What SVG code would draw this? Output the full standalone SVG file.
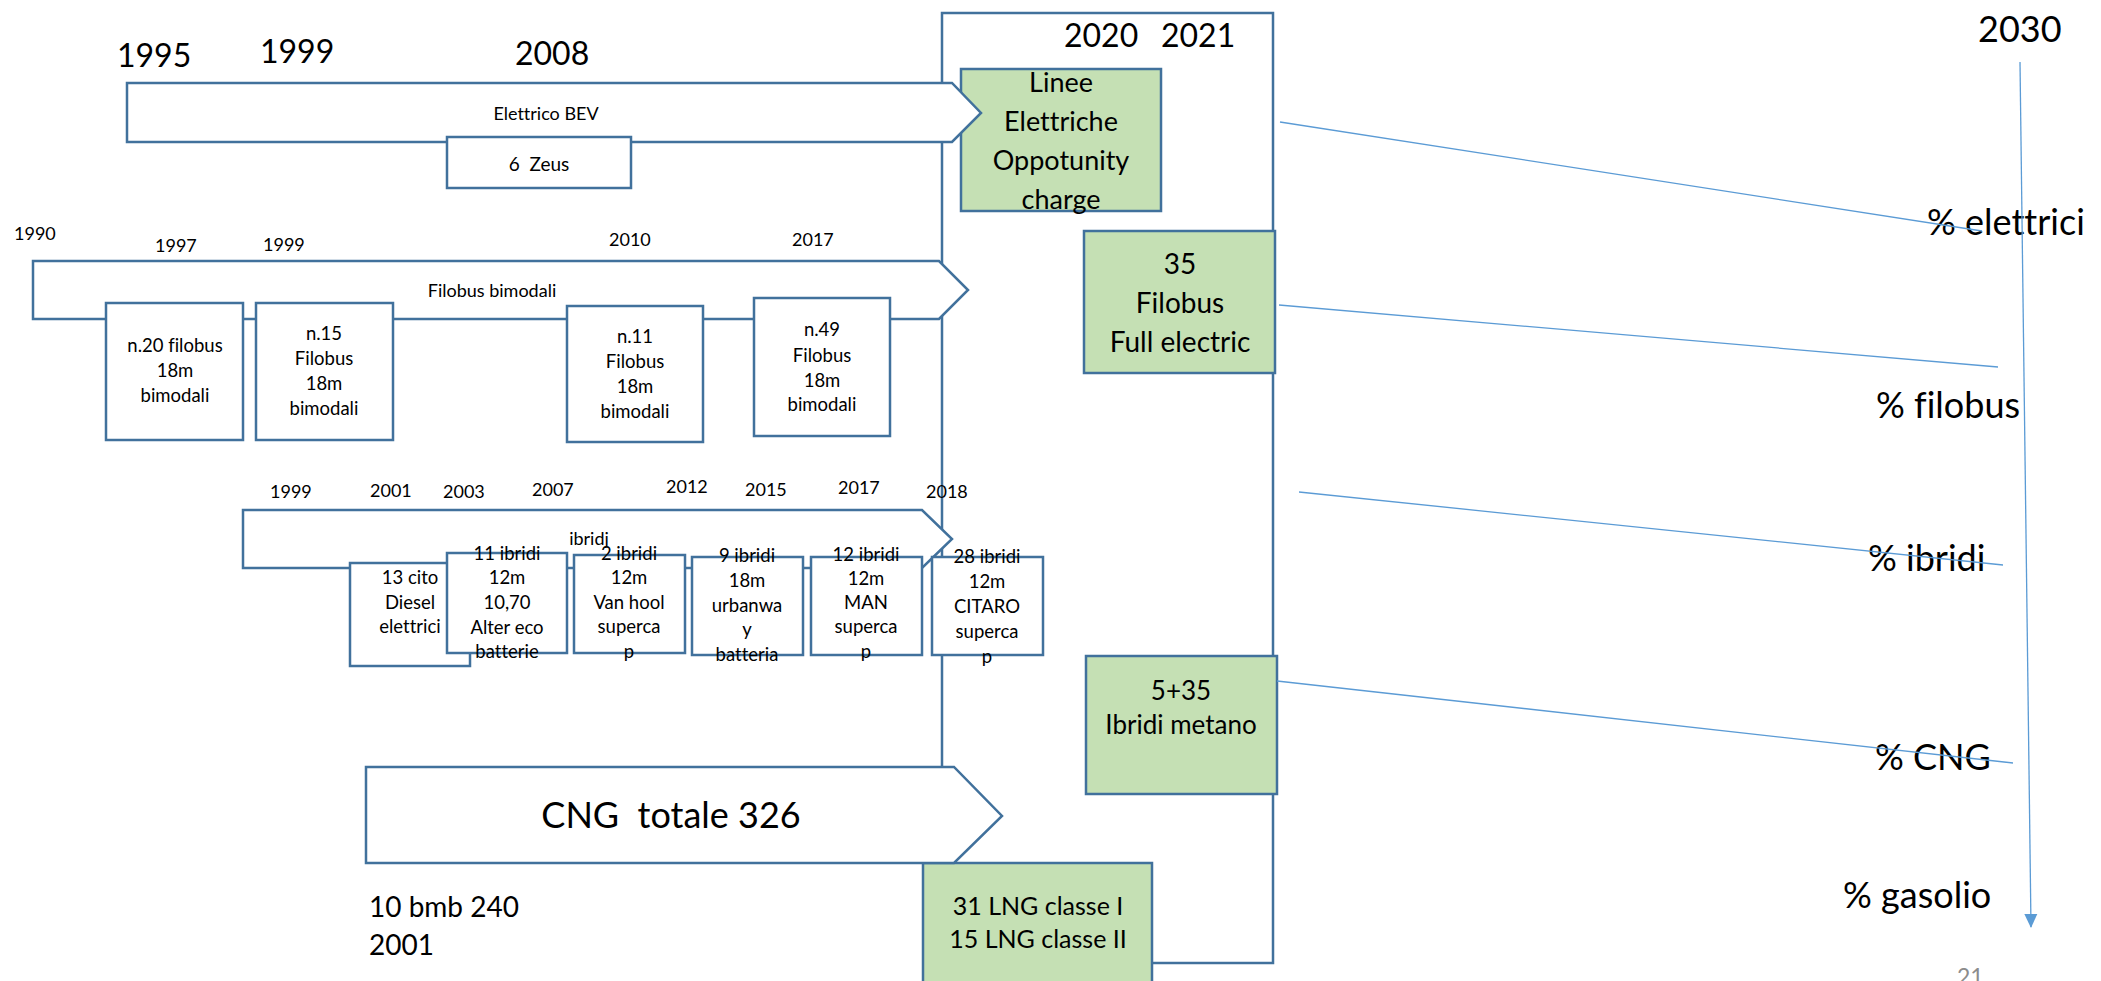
<svg xmlns="http://www.w3.org/2000/svg" width="2101" height="981" viewBox="0 0 2101 981">
  <defs>
    <style>
      text { font-family: Lato, "Open Sans", "Liberation Sans", sans-serif; fill: #000; font-variant-ligatures: none; font-feature-settings: "liga" 0; }
      .shape { fill: #fff; stroke: #41719c; stroke-width: 2.5; }
      .green { fill: #c5e0b4; stroke: #41719c; stroke-width: 2.5; }
      .frame { fill: none; stroke: #41719c; stroke-width: 2.5; }
      .conn { stroke: #5b9bd5; stroke-width: 1.3; fill: none; }
      .yr-big { font-size: 32px; }
      .yr-sm { font-size: 18px; }
      .box { font-size: 18.5px; text-anchor: middle; }
      .gtx { font-size: 27px; text-anchor: middle; }
      .pct { font-size: 36px; }
      .pre { white-space: pre; }
    </style>
    <marker id="arrowhead" markerWidth="14" markerHeight="14" refX="13" refY="7" orient="auto" markerUnits="userSpaceOnUse">
      <path d="M0,0.5 L14,7 L0,13.5 Z" fill="#5b9bd5"/>
    </marker>
  </defs>

  <!-- 2020-2021 frame -->
  <g id="frame-2020-2021">
    <rect class="frame" x="942" y="13" width="331" height="950"/>
    <text class="yr-big" x="1064" y="47">2020</text>
    <text class="yr-big" x="1161" y="47">2021</text>
  </g>

  <!-- green target boxes -->
  <g id="linee-elettriche">
    <rect class="green" x="961" y="69" width="200" height="142"/>
    <text class="gtx" x="1061" y="92">Linee</text>
    <text class="gtx" x="1061" y="131">Elettriche</text>
    <text class="gtx" x="1061" y="170">Oppotunity</text>
    <text class="gtx" x="1061" y="209">charge</text>
  </g>
  <g id="filobus-full-electric">
    <rect class="green" x="1084" y="231" width="191" height="142"/>
    <text class="gtx" x="1180" y="274" style="font-size:28px">35</text>
    <text class="gtx" x="1180" y="313" style="font-size:28px">Filobus</text>
    <text class="gtx" x="1180" y="352" style="font-size:28px">Full electric</text>
  </g>
  <g id="ibridi-metano">
    <rect class="green" x="1086" y="656" width="191" height="138"/>
    <text class="gtx" x="1181" y="700" style="font-size:26px">5+35</text>
    <text class="gtx" x="1181" y="734" style="font-size:26px">Ibridi metano</text>
  </g>
  <g id="lng">
    <rect class="green" x="923" y="863" width="229" height="130"/>
    <text class="gtx" x="1038" y="915" style="font-size:25px">31 LNG classe I</text>
    <text class="gtx" x="1038" y="948" style="font-size:25px">15 LNG classe II</text>
  </g>

  <!-- Elettrico BEV timeline -->
  <g id="elettrico-bev">
    <text class="yr-big" x="117" y="67">1995</text>
    <text class="yr-big" x="260" y="63">1999</text>
    <text class="yr-big" x="515" y="65">2008</text>
    <path class="shape" d="M127,83 H952 L981,113 L952,142 H127 Z"/>
    <text x="546" y="120" style="font-size:18px;text-anchor:middle">Elettrico BEV</text>
  </g>
  <g id="zeus">
    <rect class="shape" x="447" y="137" width="184" height="51"/>
    <text class="pre" x="539" y="171" style="font-size:19px;text-anchor:middle">6  Zeus</text>
  </g>

  <!-- Filobus bimodali timeline -->
  <g id="filobus-bimodali">
    <text class="yr-sm" x="14" y="240">1990</text>
    <text class="yr-sm" x="155" y="252">1997</text>
    <text class="yr-sm" x="263" y="251">1999</text>
    <text class="yr-sm" x="609" y="246">2010</text>
    <text class="yr-sm" x="792" y="246">2017</text>
    <path class="shape" d="M33,261 H939 L968,290 L939,319 H33 Z"/>
    <text x="492" y="297" style="font-size:18px;text-anchor:middle">Filobus bimodali</text>
  </g>
  <g id="filobus-1997">
    <rect class="shape" x="106" y="303" width="137" height="137"/>
    <text class="box" x="175" y="352">n.20 filobus</text>
    <text class="box" x="175" y="377">18m</text>
    <text class="box" x="175" y="402">bimodali</text>
  </g>
  <g id="filobus-1999">
    <rect class="shape" x="256" y="303" width="137" height="137"/>
    <text class="box" x="324" y="340">n.15</text>
    <text class="box" x="324" y="365">Filobus</text>
    <text class="box" x="324" y="390">18m</text>
    <text class="box" x="324" y="415">bimodali</text>
  </g>
  <g id="filobus-2010">
    <rect class="shape" x="567" y="306" width="136" height="136"/>
    <text class="box" x="635" y="343">n.11</text>
    <text class="box" x="635" y="368">Filobus</text>
    <text class="box" x="635" y="393">18m</text>
    <text class="box" x="635" y="418">bimodali</text>
  </g>
  <g id="filobus-2017">
    <rect class="shape" x="754" y="298" width="136" height="138"/>
    <text class="box" x="822" y="336">n.49</text>
    <text class="box" x="822" y="362">Filobus</text>
    <text class="box" x="822" y="387">18m</text>
    <text class="box" x="822" y="411">bimodali</text>
  </g>

  <!-- Ibridi timeline -->
  <g id="ibridi">
    <text class="yr-sm" x="270" y="498">1999</text>
    <text class="yr-sm" x="370" y="497">2001</text>
    <text class="yr-sm" x="443" y="498">2003</text>
    <text class="yr-sm" x="532" y="496">2007</text>
    <text class="yr-sm" x="666" y="493">2012</text>
    <text class="yr-sm" x="745" y="496">2015</text>
    <text class="yr-sm" x="838" y="494">2017</text>
    <text class="yr-sm" x="926" y="498">2018</text>
    <path class="shape" d="M243,510 H922 L952,539 L922,568 H243 Z"/>
    <text x="589" y="545" style="font-size:18px;text-anchor:middle">ibridj</text>
  </g>
  <g id="ibridi-2001">
    <rect class="shape" x="350" y="563" width="120" height="103"/>
    <text class="box" x="410" y="584">13 cito</text>
    <text class="box" x="410" y="609">Diesel</text>
    <text class="box" x="410" y="633">elettrici</text>
  </g>
  <g id="ibridi-2003">
    <rect class="shape" x="447" y="553" width="120" height="100"/>
    <text class="box" x="507" y="560">11 ibridi</text>
    <text class="box" x="507" y="584">12m</text>
    <text class="box" x="507" y="609">10,70</text>
    <text class="box" x="507" y="634">Alter eco</text>
    <text class="box" x="507" y="658">batterie</text>
  </g>
  <g id="ibridi-2007">
    <rect class="shape" x="574" y="555" width="111" height="98"/>
    <text class="box" x="629" y="560">2 ibridi</text>
    <text class="box" x="629" y="584">12m</text>
    <text class="box" x="629" y="609">Van hool</text>
    <text class="box" x="629" y="633">superca</text>
    <text class="box" x="629" y="658">p</text>
  </g>
  <g id="ibridi-2015">
    <rect class="shape" x="692" y="557" width="111" height="98"/>
    <text class="box" x="747" y="562">9 ibridi</text>
    <text class="box" x="747" y="587">18m</text>
    <text class="box" x="747" y="612">urbanwa</text>
    <text class="box" x="747" y="636">y</text>
    <text class="box" x="747" y="661">batteria</text>
  </g>
  <g id="ibridi-2017">
    <rect class="shape" x="811" y="557" width="111" height="98"/>
    <text class="box" x="866" y="561">12 ibridi</text>
    <text class="box" x="866" y="585">12m</text>
    <text class="box" x="866" y="609">MAN</text>
    <text class="box" x="866" y="633">superca</text>
    <text class="box" x="866" y="658">p</text>
  </g>
  <g id="ibridi-2018">
    <rect class="shape" x="932" y="557" width="111" height="98"/>
    <text class="box" x="987" y="563">28 ibridi</text>
    <text class="box" x="987" y="588">12m</text>
    <text class="box" x="987" y="613">CITARO</text>
    <text class="box" x="987" y="638">superca</text>
    <text class="box" x="987" y="663">p</text>
  </g>

  <!-- CNG timeline -->
  <g id="cng">
    <path class="shape" d="M366,767 H954 L1002,816 L954,863 H366 Z"/>
    <text class="pre" x="671" y="828" style="font-size:36px;text-anchor:middle">CNG  totale 326</text>
    <text x="369" y="917" style="font-size:28px">10 bmb 240</text>
    <text x="369" y="955" style="font-size:28px">2001</text>
  </g>

  <!-- 2030 share labels -->
  <g id="target-2030">
    <text x="1978" y="42" style="font-size:36px">2030</text>
    <text class="pct" x="1927" y="235">% elettrici</text>
    <text class="pct" x="1876" y="418">% filobus</text>
    <text class="pct" x="1868" y="571">% ibridi</text>
    <text class="pct" x="1875" y="770">% CNG</text>
    <text class="pct" x="1843" y="908">% gasolio</text>
  </g>

  <!-- connectors -->
  <g id="connectors">
    <line class="conn" x1="1280" y1="122" x2="1982" y2="231"/>
    <line class="conn" x1="1279" y1="305" x2="1998" y2="367"/>
    <line class="conn" x1="1299" y1="492" x2="2003" y2="565"/>
    <line class="conn" x1="1277" y1="681" x2="2013" y2="763"/>
    <line class="conn" x1="2020" y1="62" x2="2031" y2="927" marker-end="url(#arrowhead)"/>
  </g>

  <!-- page number, partly below the bottom edge -->
  <text id="page-number" x="1957" y="985" style="font-size:23px;fill:#8c8c8c">21</text>
</svg>
